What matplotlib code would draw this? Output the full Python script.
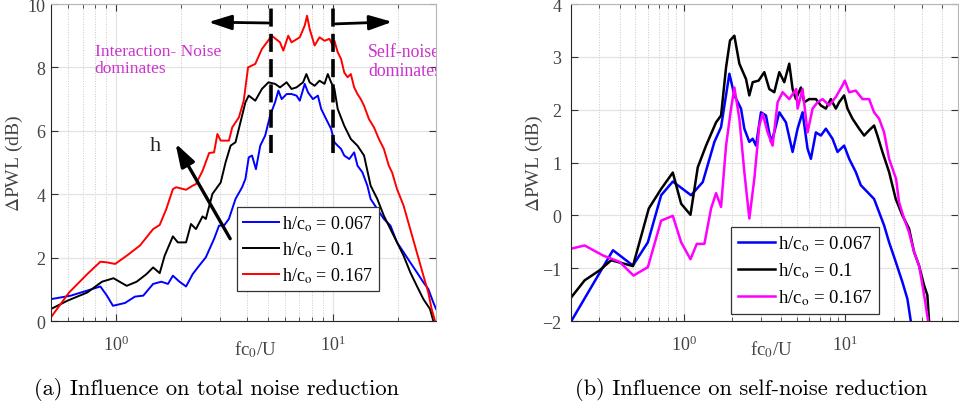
import matplotlib
matplotlib.use("Agg")
import matplotlib.pyplot as plt
from matplotlib.ticker import LogLocator, NullFormatter, MultipleLocator

plt.rcParams["font.family"] = ["Liberation Serif", "DejaVu Serif"]
plt.rcParams["mathtext.fontset"] = "stix"

# ---- (a) total noise reduction ----
a_blue_x = [0.50, 0.617, 0.735, 0.845, 0.906, 0.966, 1.099, 1.221, 1.333, 1.481, 1.616, 1.734,
            1.827, 1.960, 2.102, 2.255, 2.419, 2.594, 2.734, 2.831, 2.985, 3.146, 3.315, 3.556,
            3.814, 3.951, 4.092, 4.238, 4.419, 4.626, 4.875, 5.138, 5.416, 5.610, 5.810, 6.124,
            6.452, 6.802, 7.044, 7.424, 7.689, 8.103, 8.540, 8.845, 9.324, 9.826, 10.18, 10.54,
            10.92, 11.30, 11.92, 12.56, 13.01, 13.71, 14.45, 14.96, 16.06, 17.22, 18.47, 19.81,
            21.24, 22.79, 24.44, 26.22, 27.63, 29.12, 30.0]
a_blue_y = [0.69, 0.80, 0.96, 1.09, 0.80, 0.48, 0.57, 0.77, 0.80, 1.17, 1.24, 1.17,
            1.43, 1.24, 1.09, 1.48, 1.75, 2.01, 2.36, 2.59, 3.01, 3.01, 3.22, 3.85,
            4.22, 4.48, 5.16, 5.22, 4.79, 5.53, 5.85, 6.48, 6.90, 7.27, 7.00, 7.16,
            7.16, 7.11, 6.95, 7.48, 7.21, 7.00, 7.11, 6.69, 6.37, 6.06, 5.64, 5.53,
            5.43, 5.22, 5.11, 5.32, 4.90, 4.69, 4.27, 3.85, 3.53, 3.22, 3.01, 2.48,
            2.17, 1.85, 1.54, 1.22, 1.01, 0.59, 0.38]

a_black_x = [0.50, 0.595, 0.735, 0.860, 0.972, 1.118, 1.243, 1.380, 1.481, 1.588, 1.674, 1.827,
             1.926, 2.102, 2.215, 2.335, 2.505, 2.594, 2.782, 3.038, 3.201, 3.375, 3.556, 3.748,
             3.951, 4.092, 4.388, 4.708, 5.049, 5.416, 5.708, 6.124, 6.452, 6.802, 7.295, 7.554,
             7.825, 8.246, 8.691, 9.161, 9.488, 9.826, 10.18, 10.54, 11.30, 12.12, 13.01, 13.95,
             14.96, 16.06, 17.22, 18.47, 19.81, 21.24, 22.79, 24.44, 26.22, 28.12, 29.12]
a_black_y = [0.38, 0.64, 0.90, 1.24, 1.35, 1.11, 1.24, 1.48, 1.69, 1.51, 2.06, 2.67,
             2.48, 2.48, 3.06, 2.90, 3.30, 3.22, 4.01, 4.37, 5.01, 5.53, 5.64, 6.27,
             6.90, 7.11, 6.95, 7.32, 7.53, 7.48, 7.37, 7.53, 7.32, 7.37, 7.53, 7.79,
             7.53, 7.42, 7.58, 7.48, 7.79, 7.53, 7.32, 6.69, 6.16, 5.74, 5.53, 5.22,
             4.27, 3.85, 3.32, 2.90, 2.48, 2.06, 1.54, 1.11, 0.69, 0.38, 0.01]

a_red_x = [0.50, 0.606, 0.735, 0.845, 0.906, 0.989, 1.118, 1.287, 1.481, 1.588, 1.703, 1.827,
           1.892, 2.102, 2.255, 2.335, 2.505, 2.687, 2.831, 2.933, 3.038, 3.315, 3.435, 3.684,
           3.882, 4.063, 4.388, 4.708, 5.229, 5.708, 5.912, 6.230, 6.452, 7.044, 7.424, 7.609,
           7.825, 8.246, 8.691, 9.161, 9.656, 10.0, 10.18, 10.54, 10.92, 11.30, 11.71, 12.12,
           12.56, 13.01, 13.47, 13.95, 14.70, 15.50, 16.34, 17.22, 18.15, 18.79, 19.81, 21.24,
           22.79, 24.44, 26.22, 27.63, 28.62, 29.64]
a_red_y = [0.12, 0.90, 1.48, 1.87, 1.85, 1.80, 2.06, 2.38, 2.90, 3.03, 3.53, 4.16,
           4.22, 4.14, 4.27, 4.32, 4.74, 5.30, 5.32, 5.90, 5.69, 5.69, 6.11, 6.42,
           6.95, 8.00, 8.11, 8.58, 9.00, 8.79, 8.53, 9.00, 8.79, 8.95, 9.32, 9.63,
           9.21, 8.69, 8.95, 8.84, 8.90, 8.69, 8.84, 8.48, 8.27, 7.84, 7.69, 7.79,
           7.37, 7.16, 7.00, 6.79, 6.37, 6.11, 5.74, 5.43, 4.90, 4.69, 4.16, 3.64,
           2.90, 2.17, 1.43, 0.90, 0.38, 0.01]

# ---- (b) self-noise reduction ----
b_blue_x = [0.201, 0.364, 0.484, 0.599, 0.724, 0.855, 1.110, 1.311, 1.548, 1.702, 1.917, 2.058,
            2.263, 2.373, 2.548, 2.673, 2.802, 3.009, 3.231, 3.469, 3.638, 3.907, 4.295, 4.724,
            5.073, 5.446, 5.848, 6.134, 6.587, 7.072, 7.594, 8.350, 8.967, 9.858, 10.59, 11.64,
            12.50, 13.75, 15.11, 16.23, 17.43, 18.72, 20.58, 22.62, 24.30, 25.48]
b_blue_y = [-2.00, -0.66, -0.95, -0.51, 0.38, 0.64, 0.38, 0.63, 1.39, 1.67, 2.68, 2.27,
            2.02, 1.64, 1.39, 1.45, 1.32, 1.95, 1.89, 1.39, 1.57, 1.95, 1.76, 1.20,
            1.64, 1.95, 1.26, 1.07, 1.57, 1.51, 1.64, 1.45, 1.20, 1.32, 1.07, 0.82,
            0.57, 0.44, 0.31, 0.06, -0.19, -0.51, -0.88, -1.26, -1.58, -1.99]

b_black_x = [0.201, 0.243, 0.301, 0.355, 0.484, 0.607, 0.724, 0.855, 0.963, 1.100, 1.221, 1.374,
             1.585, 1.702, 1.828, 1.934, 2.058, 2.210, 2.430, 2.548, 2.673, 2.910, 3.155, 3.388,
             3.638, 3.907, 4.195, 4.504, 4.724, 4.953, 5.318, 5.577, 5.988, 6.587, 7.072, 7.594,
             8.151, 8.755, 9.182, 9.858, 10.34, 11.10, 12.21, 13.11, 14.08, 15.11, 15.85, 17.02,
             18.72, 20.58, 22.62, 24.88, 26.72, 28.69, 30.81, 32.31, 33.08]
b_black_y = [-1.55, -1.23, -1.04, -0.85, -0.96, 0.13, 0.50, 0.81, 0.22, 0.01, 0.91, 1.32,
             1.76, 1.89, 2.80, 3.31, 3.40, 2.87, 2.58, 2.27, 2.52, 2.55, 2.71, 2.39,
             2.33, 2.71, 2.52, 2.87, 2.39, 2.20, 2.42, 2.14, 2.20, 2.20, 2.08, 2.02,
             2.20, 2.02, 2.14, 2.27, 2.02, 1.83, 1.64, 1.51, 1.61, 1.70, 1.51, 1.20,
             0.82, 0.31, 0.00, -0.25, -0.69, -0.95, -1.32, -1.51, -1.99]

b_mag_x = [0.201, 0.243, 0.316, 0.400, 0.488, 0.599, 0.724, 0.855, 0.963, 1.100, 1.204, 1.342,
           1.476, 1.585, 1.702, 1.828, 1.963, 2.058, 2.210, 2.373, 2.548, 2.736, 2.938, 3.082,
           3.308, 3.552, 3.814, 4.097, 4.504, 4.977, 5.073, 5.446, 5.848, 6.281, 6.745, 7.240,
           7.962, 8.755, 9.627, 9.952, 10.59, 11.64, 12.80, 14.08, 15.11, 16.23, 17.43, 18.72,
           20.68, 21.58, 23.17, 24.88, 26.72, 28.69, 29.67, 31.12, 32.62]
b_mag_y = [-0.63, -0.57, -0.76, -0.88, -1.14, -0.98, -0.10, -0.01, -0.51, -0.83, -0.54, -0.54,
           0.13, 0.42, 0.16, 1.32, 2.02, 2.42, 1.83, 0.82, -0.06, 0.69, 1.70, 1.92,
           1.57, 1.32, 2.14, 2.33, 2.20, 2.39, 2.02, 2.39, 1.57, 2.02, 2.14, 2.20,
           2.08, 2.24, 2.46, 2.55, 2.33, 2.36, 2.20, 2.20, 1.95, 1.83, 1.57, 1.07,
           0.69, 0.25, -0.06, -0.32, -0.69, -0.95, -1.20, -1.58, -1.99]

labels = ["h/c$_{\\rm o}$ = 0.067", "h/c$_{\\rm o}$ = 0.1", "h/c$_{\\rm o}$ = 0.167"]
tick_gray = "#444444"


def style_axes(ax):
    ax.set_xscale("log")
    ax.xaxis.set_minor_locator(LogLocator(subs=range(2, 10)))
    ax.xaxis.set_minor_formatter(NullFormatter())
    ax.grid(True, which="major", color="#e3e3e3", lw=0.9)
    ax.grid(True, which="minor", axis="x", color="#c8c8c8", lw=0.7, ls=":")
    ax.set_axisbelow(True)
    ax.tick_params(which="both", direction="in", top=True, right=True,
                   color="#333333", labelcolor=tick_gray, labelsize=13)
    ax.tick_params(which="major", length=5)
    ax.tick_params(which="minor", length=3)
    ax.tick_params(axis="x", pad=10)
    for side in ("left", "bottom"):
        ax.spines[side].set_color("#262626")
    for side in ("top", "right"):
        ax.spines[side].set_color("#b5b5b5")
    ax.set_ylabel(r"$\Delta$PWL (dB)", fontsize=14, color=tick_gray)
    ax.set_xlabel("fc$_0$/U", fontsize=13.5, color=tick_gray)


fig = plt.figure(figsize=(9.59, 4.10), dpi=100)

ax1 = fig.add_axes([0.0532, 0.2146, 0.4015, 0.7732])
ax1.plot(a_blue_x, a_blue_y, color="#0000ff", lw=1.4, label=labels[0])
ax1.plot(a_black_x, a_black_y, color="#000000", lw=1.4, label=labels[1])
ax1.plot(a_red_x, a_red_y, color="#ff0000", lw=1.4, label=labels[2])
ax1.set_xlim(0.5, 30)
ax1.set_ylim(0, 10)
ax1.yaxis.set_major_locator(MultipleLocator(2))
style_axes(ax1)
ax1.tick_params(axis="y", pad=4)
ax1.yaxis.set_label_coords(-0.068, 0.5)
ax1.xaxis.set_label_coords(0.53, -0.055)

# frequency band markers
for xv in (5.2, 10.0):
    ax1.plot([xv, xv], [5.3, 10], color="k", lw=2.6, ls=(0, (5, 2)))
arrow = dict(arrowstyle="-|>,head_length=1.4,head_width=0.45", color="k", lw=2)
ax1.annotate("", xy=(2.59, 9.43), xytext=(5.2, 9.40), arrowprops=arrow)
ax1.annotate("", xy=(19.4, 9.44), xytext=(10.0, 9.37), arrowprops=arrow)
ax1.annotate("", xy=(1.85, 5.68), xytext=(3.41, 2.52),
             arrowprops=dict(arrowstyle="-|>,head_length=1.4,head_width=0.45", color="k", lw=2.4))
ax1.text(1.51, 5.55, "h", fontsize=16, ha="center", va="center", color="#222222")
ax1.text(0.796, 8.78, "Interaction- Noise\ndominates", fontsize=12.5, color="#cc33cc",
         ha="left", va="top", linespacing=1.15)
ax1.text(14.6, 8.78, "Self-noise\ndominates", fontsize=12.8, color="#cc33cc",
         ha="left", va="top", linespacing=1.15, clip_on=True)

leg1 = ax1.legend(loc="lower left", bbox_to_anchor=(0.483, 0.095), fontsize=13,
                  handlelength=2.0, handletextpad=0.15, borderpad=0.35, labelspacing=0.35,
                  fancybox=False, framealpha=1, edgecolor="#333333", borderaxespad=0)
leg1.get_frame().set_linewidth(0.9)

ax2 = fig.add_axes([0.5954, 0.2146, 0.4035, 0.7732])
ax2.plot(b_blue_x, b_blue_y, color="#0000ff", lw=1.8, label=labels[0])
ax2.plot(b_black_x, b_black_y, color="#000000", lw=1.8, label=labels[1])
ax2.plot(b_mag_x, b_mag_y, color="#ff00ff", lw=1.8, label=labels[2])
ax2.set_xlim(0.2, 50)
ax2.set_ylim(-2, 4)
ax2.yaxis.set_major_locator(MultipleLocator(1))
style_axes(ax2)
ax2.tick_params(axis="y", pad=7)
ax2.yaxis.set_label_coords(-0.066, 0.5)
ax2.xaxis.set_label_coords(0.519, -0.055)
leg2 = ax2.legend(loc="lower left", bbox_to_anchor=(0.414, 0.022), fontsize=13.5,
                  handlelength=2.0, handletextpad=0.15, borderpad=0.35, labelspacing=0.4,
                  fancybox=False, framealpha=1, edgecolor="#333333", borderaxespad=0)
leg2.get_frame().set_linewidth(0.9)

fig.text(0.2253, 0.049, "(a) Influence on total noise reduction", fontsize=16.2,
         family="cmr10", ha="center", va="center")
fig.text(0.783, 0.049, "(b) Influence on self-noise reduction", fontsize=16.2,
         family="cmr10", ha="center", va="center")

fig.savefig("out.png", dpi=100)
